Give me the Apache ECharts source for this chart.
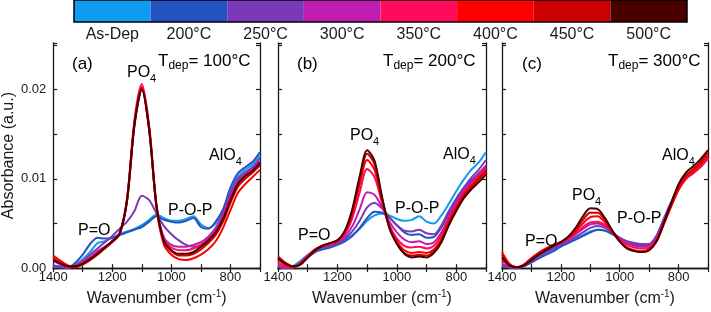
<!DOCTYPE html>
<html>
<head>
<meta charset="utf-8">
<script src="https://cdn.jsdelivr.net/npm/echarts@6/dist/echarts.min.js"></script>
<style>
  html, body { margin: 0; padding: 0; background: #fff; }
  #chart { width: 711px; height: 312px; }
</style>
</head>
<body>
<div id="chart"></div>
<script>
// wavenumber grid (cm-1), absorbance values in units of 1e-3 a.u.
const wavenumbers = [1400, 1375, 1350, 1325, 1300, 1275, 1250, 1225, 1200, 1175, 1150, 1125, 1100, 1075,
  1050, 1025, 1000, 975, 950, 925, 900, 875, 850, 825, 800, 775, 750, 725, 700];

const tempLabels = ['As-Dep', '200°C', '250°C', '300°C', '350°C', '400°C', '450°C', '500°C'];
const tempColors = ['#0f9bef', '#2453bf', '#7b38b9', '#bf1cb0', '#ff0a5c', '#ff0000', '#cc0000', '#4b0000'];

const xTicks = [1400, 1200, 1000, 800];
const yTicks = [0, 10, 20];

// (a) Tdep = 100°C
const aAsDep = [0.3, 0.2, 0.1, 0.4, 1.0, 1.8, 2.8, 3.0, 3.4, 3.8, 4.1, 4.4, 4.8, 5.4, 6.0, 5.6, 5.3, 5.3, 5.5, 5.8, 4.9, 4.5, 5.0, 6.3, 8.6, 10.2, 11.0, 11.6, 12.6];
const a200 = [0.3, 0.1, 0.1, 0.6, 1.5, 2.7, 3.4, 3.3, 3.4, 3.7, 4.0, 4.3, 4.6, 5.2, 5.8, 5.4, 5.2, 5.1, 5.3, 5.6, 4.6, 4.4, 5.2, 6.6, 9.0, 10.6, 11.3, 11.9, 13.0];
const a250 = [0.2, 0.1, 0.0, 0.3, 0.8, 1.5, 2.2, 2.9, 3.6, 4.4, 5.2, 6.4, 8.1, 7.6, 6.1, 4.7, 3.8, 3.1, 2.6, 2.4, 2.6, 3.3, 4.4, 6.0, 8.3, 10.0, 10.7, 11.3, 12.3];
const a300 = [0.8, 0.4, 0.1, 0.2, 0.6, 1.2, 1.9, 2.4, 3.0, 3.8, 7.5, 16.0, 20.0, 15.4, 6.8, 3.4, 2.6, 2.4, 2.4, 2.6, 2.9, 3.5, 4.5, 6.0, 8.1, 9.7, 10.5, 11.1, 12.0];
const a350 = [1.0, 0.5, 0.2, 0.2, 0.6, 1.1, 1.7, 2.3, 3.0, 3.9, 7.8, 16.6, 20.6, 15.9, 7.0, 3.2, 2.3, 2.0, 2.0, 2.2, 2.6, 3.2, 4.1, 5.6, 7.8, 9.5, 10.3, 10.9, 11.8];
const a400 = [1.4, 0.8, 0.3, 0.1, 0.4, 0.9, 1.5, 2.2, 2.9, 3.8, 7.6, 16.2, 20.3, 15.6, 6.7, 2.6, 1.5, 1.0, 0.9, 1.1, 1.5, 2.1, 3.0, 4.5, 6.5, 8.4, 9.4, 10.2, 11.0];
const a450 = [1.1, 0.6, 0.2, 0.1, 0.5, 1.0, 1.6, 2.3, 3.0, 3.9, 7.7, 16.1, 20.1, 15.5, 6.7, 2.9, 1.9, 1.4, 1.4, 1.6, 2.1, 2.8, 3.7, 5.2, 7.3, 9.1, 10.0, 10.7, 11.5];
const a500 = [0.9, 0.5, 0.2, 0.2, 0.5, 1.0, 1.6, 2.3, 3.0, 3.9, 7.6, 16.0, 20.0, 15.5, 6.9, 3.0, 2.0, 1.6, 1.6, 1.8, 2.4, 3.1, 4.0, 5.5, 7.6, 9.4, 10.3, 10.9, 11.8];

// (b) Tdep = 200°C
const bAsDep = [0.2, 0.0, 0.2, 0.8, 1.5, 2.0, 2.3, 2.5, 2.8, 3.2, 3.7, 4.4, 5.3, 5.9, 6.1, 5.9, 5.5, 5.3, 5.4, 5.8, 5.2, 5.0, 5.9, 7.2, 8.6, 9.9, 11.0, 11.8, 13.0];
const b200 = [0.2, 0.0, 0.1, 0.5, 1.2, 1.8, 2.1, 2.3, 2.6, 3.0, 3.6, 4.5, 5.6, 6.3, 6.2, 5.6, 4.8, 4.0, 3.7, 3.8, 3.4, 3.5, 4.6, 6.2, 7.6, 8.9, 9.8, 10.6, 11.4];
const b250 = [0.2, 0.0, 0.1, 0.5, 1.2, 1.9, 2.3, 2.5, 2.8, 3.3, 4.1, 5.3, 6.8, 7.3, 6.7, 5.7, 4.8, 4.2, 4.1, 4.3, 3.9, 3.8, 4.8, 6.4, 7.8, 9.0, 10.1, 11.0, 12.1];
const b300 = [0.3, 0.1, 0.1, 0.5, 1.3, 2.0, 2.4, 2.6, 2.9, 3.5, 4.7, 6.6, 8.5, 8.2, 6.8, 5.2, 4.0, 3.2, 2.9, 3.0, 2.7, 2.9, 4.0, 5.8, 7.3, 8.6, 9.6, 10.5, 11.5];
const b350 = [0.6, 0.2, 0.1, 0.6, 1.4, 2.1, 2.5, 2.7, 3.0, 3.8, 5.6, 8.5, 11.1, 10.2, 7.3, 4.8, 3.3, 2.5, 2.3, 2.4, 2.2, 2.5, 3.7, 5.5, 7.0, 8.4, 9.4, 10.3, 11.2];
const b400 = [1.0, 0.4, 0.1, 0.5, 1.3, 2.1, 2.5, 2.8, 3.1, 4.0, 6.1, 9.4, 12.1, 11.0, 7.6, 4.6, 3.0, 2.0, 1.7, 1.8, 1.7, 2.1, 3.3, 5.2, 6.8, 8.2, 9.2, 10.1, 11.0];
const b450 = [1.3, 0.6, 0.2, 0.4, 1.2, 2.0, 2.5, 2.8, 3.1, 4.1, 6.4, 9.9, 12.8, 11.6, 7.8, 4.5, 2.8, 1.7, 1.4, 1.5, 1.4, 1.9, 3.1, 5.0, 6.6, 8.0, 9.0, 9.9, 10.8];
const b500 = [1.1, 0.5, 0.2, 0.4, 1.2, 2.0, 2.5, 2.8, 3.1, 4.2, 6.6, 10.3, 13.2, 12.0, 8.0, 4.5, 2.7, 1.6, 1.2, 1.3, 1.2, 1.7, 2.9, 4.8, 6.4, 7.8, 8.8, 9.6, 10.5];

// (c) Tdep = 300°C
const cAsDep = [0.3, 0.1, 0.0, 0.3, 0.8, 1.3, 1.7, 2.1, 2.5, 2.9, 3.3, 3.7, 4.1, 4.3, 4.2, 3.8, 3.3, 2.9, 2.7, 2.5, 2.6, 3.6, 5.5, 7.3, 9.0, 10.2, 10.8, 11.4, 12.3];
const c200 = [0.3, 0.1, 0.0, 0.2, 0.6, 1.1, 1.5, 1.9, 2.4, 2.8, 3.2, 3.6, 4.0, 4.3, 4.2, 3.8, 3.3, 2.9, 2.7, 2.5, 2.6, 3.6, 5.5, 7.4, 9.1, 10.3, 10.9, 11.6, 12.4];
const c250 = [0.3, 0.1, 0.0, 0.3, 0.8, 1.3, 1.8, 2.2, 2.6, 3.0, 3.5, 4.0, 4.5, 4.7, 4.5, 4.0, 3.4, 3.0, 2.8, 2.7, 2.7, 3.6, 5.4, 7.2, 8.9, 10.1, 10.8, 11.5, 12.4];
const c300 = [0.5, 0.2, 0.1, 0.4, 1.0, 1.5, 2.0, 2.4, 2.8, 3.2, 3.8, 4.4, 4.9, 5.0, 4.7, 4.0, 3.3, 2.8, 2.5, 2.4, 2.5, 3.4, 5.2, 7.1, 8.8, 10.0, 10.7, 11.4, 12.3];
const c350 = [0.9, 0.3, 0.1, 0.4, 1.1, 1.7, 2.2, 2.6, 2.9, 3.3, 3.9, 4.6, 5.1, 5.2, 4.8, 4.0, 3.2, 2.6, 2.3, 2.2, 2.3, 3.2, 5.1, 7.0, 8.8, 10.0, 10.6, 11.3, 12.3];
const c400 = [1.8, 0.5, 0.1, 0.4, 1.1, 1.7, 2.2, 2.6, 2.9, 3.4, 4.1, 5.0, 5.7, 5.8, 5.1, 4.0, 3.0, 2.3, 2.0, 1.9, 2.1, 3.0, 4.9, 6.9, 8.8, 10.1, 10.8, 11.6, 12.6];
const c450 = [1.5, 0.4, 0.1, 0.3, 1.0, 1.6, 2.1, 2.5, 2.9, 3.5, 4.3, 5.4, 6.2, 6.2, 5.4, 4.1, 3.0, 2.2, 1.9, 1.8, 2.0, 3.0, 5.0, 7.1, 9.1, 10.4, 11.1, 11.9, 12.9];
const c500 = [1.2, 0.3, 0.1, 0.3, 0.9, 1.5, 2.0, 2.5, 2.9, 3.5, 4.5, 5.8, 6.7, 6.6, 5.6, 4.2, 3.0, 2.2, 1.9, 1.8, 2.0, 3.0, 5.1, 7.3, 9.4, 10.7, 11.4, 12.2, 13.2];

const panels = [
  [aAsDep, a200, a250, a300, a350, a400, a450, a500],
  [bAsDep, b200, b250, b300, b350, b400, b450, b500],
  [cAsDep, c200, c250, c300, c350, c400, c450, c500]
];

const FONT = 'Liberation Sans, Arial, sans-serif';
const INK = '#1a1a1a';
const panelLeft = [52, 278, 502];

let chart = echarts.init(document.getElementById('chart'));

let grids = [];
let xAxes = [];
let yAxes = [];
let series = [];

panels.forEach(function (curves, p) {
  grids.push({ left: panelLeft[p], top: 43, width: 208, height: 232 });
  let axLine = { show: true, lineStyle: { color: INK, width: 1.3 } };
  let tick = { show: true, inside: true, length: 4, lineStyle: { color: INK, width: 1.2 } };
  let xBase = {
    gridIndex: p, type: 'value', min: 700, max: 1400, interval: 100, inverse: true,
    axisLine: axLine, axisTick: tick, splitLine: { show: false }
  };
  xAxes.push(Object.assign({}, xBase, {
    position: 'bottom',
    axisLabel: {
      fontFamily: FONT, fontSize: 13, color: INK, margin: 3,
      formatter: function (v) { return xTicks.indexOf(v) >= 0 ? String(v) : ''; }
    },
    name: '{a|Wavenumber (cm}{s|-1}{a|)}',
    nameLocation: 'middle',
    nameGap: 10,
    nameTextStyle: {
      rich: {
        a: { fontFamily: FONT, fontSize: 16, color: INK, lineHeight: 20 },
        s: { fontFamily: FONT, fontSize: 10, color: INK, lineHeight: 10, verticalAlign: 'top' }
      }
    }
  }));
  xAxes.push(Object.assign({}, xBase, { position: 'top', axisLabel: { show: false } }));

  let yBase = {
    gridIndex: p, type: 'value', min: 0, max: 25.2, interval: 5,
    axisLine: axLine, axisTick: tick, splitLine: { show: false }
  };
  yAxes.push(Object.assign({}, yBase, {
    position: 'left',
    axisLabel: {
      show: p === 0, fontFamily: FONT, fontSize: 13, color: INK, margin: 7,
      formatter: function (v) { return yTicks.indexOf(v) >= 0 ? (v / 1000).toFixed(2) : ''; }
    },
    name: p === 0 ? 'Absorbance (a.u.)' : '',
    nameLocation: 'middle',
    nameGap: 35,
    nameTextStyle: { fontFamily: FONT, fontSize: 16, color: INK }
  }));
  yAxes.push(Object.assign({}, yBase, { position: 'right', axisLabel: { show: false } }));

  curves.forEach(function (vals, t) {
    series.push({
      type: 'line',
      xAxisIndex: 2 * p,
      yAxisIndex: 2 * p,
      data: wavenumbers.map(function (w, k) { return [w, vals[k]]; }),
      showSymbol: false,
      smooth: 0.3,
      silent: true,
      lineStyle: { color: tempColors[t], width: 2 },
      z: 2 + t
    });
  });
});

// colour bar legend drawn as a category bar strip
grids.push({ left: 74, top: 0, width: 613, height: 22, show: true, borderColor: '#000', borderWidth: 1.5, backgroundColor: 'transparent', z: 20 });
xAxes.push({
  gridIndex: 3, type: 'category', data: tempLabels,
  axisLine: { show: false }, axisTick: { show: false },
  axisLabel: { fontFamily: FONT, fontSize: 16, color: INK, margin: 5 }
});
yAxes.push({ gridIndex: 3, type: 'value', min: 0, max: 1, show: false });
series.push({
  type: 'bar',
  xAxisIndex: 6,
  yAxisIndex: 6,
  barWidth: '100%',
  silent: true,
  data: tempLabels.map(function (lab, i) {
    return { value: 1, itemStyle: { color: tempColors[i] } };
  })
});

// text annotations
const rich = {
  a: { fontFamily: FONT, fontSize: 16, color: INK, lineHeight: 22 },
  t: { fontFamily: FONT, fontSize: 17, color: INK, lineHeight: 22 },
  s: { fontFamily: FONT, fontSize: 11, color: INK, lineHeight: 9, verticalAlign: 'bottom' },
  d: { fontFamily: FONT, fontSize: 12, color: INK, lineHeight: 9, verticalAlign: 'bottom' }
};
function label(x, y, text) {
  return { type: 'text', x: x, y: y, silent: true, z: 50,
    style: { text: text, rich: rich, align: 'left', verticalAlign: 'middle' } };
}
const notes = [
  [[72, 64, '{t|(a)}'], [158, 61, '{t|T}{d|dep}{t|= 100°C}'], [127, 73, '{a|PO}{s|4}'], [209, 156, '{a|AlO}{s|4}'], [168, 211, '{a|P-O-P}'], [78, 231, '{a|P=O}']],
  [[297, 64, '{t|(b)}'], [383, 61, '{t|T}{d|dep}{t|= 200°C}'], [350, 136, '{a|PO}{s|4}'], [443, 155, '{a|AlO}{s|4}'], [395, 209, '{a|P-O-P}'], [298, 236, '{a|P=O}']],
  [[522, 64, '{t|(c)}'], [608, 61, '{t|T}{d|dep}{t|= 300°C}'], [572, 196, '{a|PO}{s|4}'], [662, 156, '{a|AlO}{s|4}'], [617, 219, '{a|P-O-P}'], [525, 242, '{a|P=O}']]
];
let graphics = [];
notes.forEach(function (list) {
  list.forEach(function (n) { graphics.push(label(n[0], n[1], n[2])); });
});

chart.setOption({
  animation: false,
  backgroundColor: '#fff',
  grid: grids,
  xAxis: xAxes,
  yAxis: yAxes,
  series: series,
  graphic: graphics
});
</script>
</body>
</html>
